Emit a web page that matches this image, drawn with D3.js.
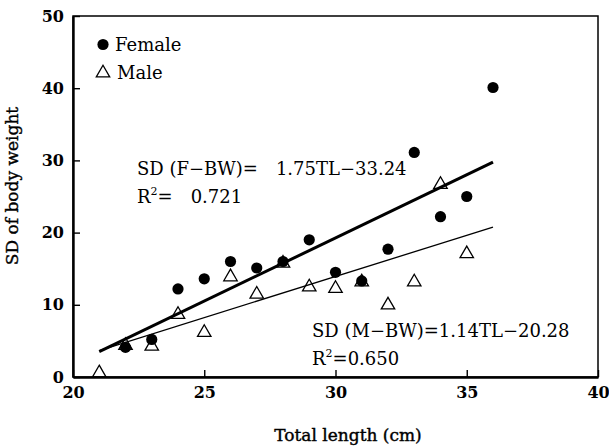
<!DOCTYPE html>
<html>
<head>
<meta charset="utf-8">
<script src="https://cdn.jsdelivr.net/npm/d3@7"></script>
<style>
  html, body { margin: 0; padding: 0; background: #fff; }
  svg { display: block; }
  text { font-family: "DejaVu Serif", "Liberation Serif", serif; fill: #000; }
</style>
</head>
<body>
<svg id="chart" width="609" height="447"></svg>
<script>
// Total length (cm) of each size class
const lengths = [21, 22, 23, 24, 25, 26, 27, 28, 29, 30, 31, 32, 33, 34, 35, 36];
// SD of body weight, females (no value at 21 cm)
const femaleSD = [null, 4.1, 5.2, 12.2, 13.6, 16.0, 15.1, 16.0, 19.0, 14.5, 13.3, 17.7, 31.1, 22.2, 25.0, 40.1];
// SD of body weight, males (no value at 36 cm)
const maleSD = [0.7, 4.5, 4.4, 8.8, 6.3, 14.0, 11.6, 15.9, 12.6, 12.4, 13.3, 10.1, 13.3, 26.8, 17.2, null];
// Fitted regressions: slope, intercept, fitted range
const femaleFit = { slope: 1.75, intercept: -33.24, from: 21, to: 36 };
const maleFit = { slope: 1.14, intercept: -20.28, from: 21, to: 36 };
const xTicks = [20, 25, 30, 35, 40];
const yTicks = [0, 10, 20, 30, 40, 50];

const svg = d3.select("#chart");
const m = { left: 73, right: 598, top: 16, bottom: 377 };

const x = d3.scaleLinear().domain([20, 40]).range([m.left, m.right]);
const y = d3.scaleLinear().domain([0, 50]).range([m.bottom, m.top]);

// Frame
svg.append("rect")
  .attr("x", m.left).attr("y", m.top)
  .attr("width", m.right - m.left).attr("height", m.bottom - m.top)
  .attr("fill", "none").attr("stroke", "#000").attr("stroke-width", 1.5);

// Axes, ticks pointing into the plot
const xAxis = svg.append("g")
  .attr("transform", `translate(0,${m.bottom})`)
  .call(d3.axisBottom(x).tickValues(xTicks).tickSizeInner(-7).tickSizeOuter(0).tickPadding(10));
const yAxis = svg.append("g")
  .attr("transform", `translate(${m.left},0)`)
  .call(d3.axisLeft(y).tickValues(yTicks).tickSizeInner(-7).tickSizeOuter(0).tickPadding(9));

[xAxis, yAxis].forEach(g => {
  g.select(".domain").attr("stroke", "#000").attr("stroke-width", 2.4);
  g.selectAll(".tick line").attr("stroke", "#000").attr("stroke-width", 1.4);
  g.selectAll(".tick text")
    .attr("font-family", "'DejaVu Serif', serif")
    .attr("font-size", 16).attr("font-weight", "bold").attr("fill", "#000");
});

// Axis titles
svg.append("text")
  .attr("x", 348).attr("y", 441)
  .attr("text-anchor", "middle").attr("font-size", 17)
  .attr("stroke", "#000").attr("stroke-width", 0.4)
  .text("Total length (cm)");
svg.append("text")
  .attr("transform", "translate(18,186) rotate(-90)")
  .attr("text-anchor", "middle").attr("font-size", 17)
  .attr("stroke", "#000").attr("stroke-width", 0.4)
  .text("SD of body weight");

// Regression lines
const fitLine = (fit) => [fit.from, fit.to].map(t => [x(t), y(fit.slope * t + fit.intercept)]);
svg.append("path")
  .attr("d", d3.line()(fitLine(femaleFit)))
  .attr("stroke", "#000").attr("stroke-width", 3).attr("fill", "none");
svg.append("path")
  .attr("d", d3.line()(fitLine(maleFit)))
  .attr("stroke", "#000").attr("stroke-width", 1.3).attr("fill", "none");

// Markers
const tri = d3.symbol().type(d3.symbolTriangle).size(78);
const maleData = lengths.map((t, i) => ({ t, v: maleSD[i] })).filter(d => d.v != null);
const femaleData = lengths.map((t, i) => ({ t, v: femaleSD[i] })).filter(d => d.v != null);

svg.append("g").selectAll("circle").data(femaleData).join("circle")
  .attr("cx", d => x(d.t)).attr("cy", d => y(d.v)).attr("r", 5.6)
  .attr("fill", "#000");
svg.append("g").selectAll("path").data(maleData).join("path")
  .attr("d", tri)
  .attr("transform", d => `translate(${x(d.t)},${y(d.v) + 1})`)
  .attr("fill", "none").attr("stroke", "#000").attr("stroke-width", 1.3);

// Legend
const legend = svg.append("g");
legend.append("circle").attr("cx", 103).attr("cy", 44.5).attr("r", 5.6).attr("fill", "#000");
legend.append("text").attr("x", 115).attr("y", 51).attr("font-size", 18).text("Female");
legend.append("path").attr("d", tri).attr("transform", "translate(103,73)")
  .attr("fill", "none").attr("stroke", "#000").attr("stroke-width", 1.3);
legend.append("text").attr("x", 117).attr("y", 79).attr("font-size", 18).text("Male");

// Equation labels
const fmt = d3.format(".2f");
const eqF = svg.append("text").attr("x", 137).attr("y", 175).attr("font-size", 18);
eqF.text(`SD (F\u2212BW)=\u2002\u2002${fmt(femaleFit.slope)}TL\u2212${fmt(-femaleFit.intercept)}`);
const r2F = svg.append("text").attr("x", 137).attr("y", 203).attr("font-size", 18);
r2F.append("tspan").text("R");
r2F.append("tspan").attr("dy", -8).attr("font-size", 11).text("2");
r2F.append("tspan").attr("dy", 8).text("=\u2002\u20020.721");

const eqM = svg.append("text").attr("x", 312).attr("y", 337).attr("font-size", 18);
eqM.text(`SD (M\u2212BW)=${fmt(maleFit.slope)}TL\u2212${fmt(-maleFit.intercept)}`);
const r2M = svg.append("text").attr("x", 312).attr("y", 365).attr("font-size", 18);
r2M.append("tspan").text("R");
r2M.append("tspan").attr("dy", -8).attr("font-size", 11).text("2");
r2M.append("tspan").attr("dy", 8).text("=0.650");
</script>
</body>
</html>
